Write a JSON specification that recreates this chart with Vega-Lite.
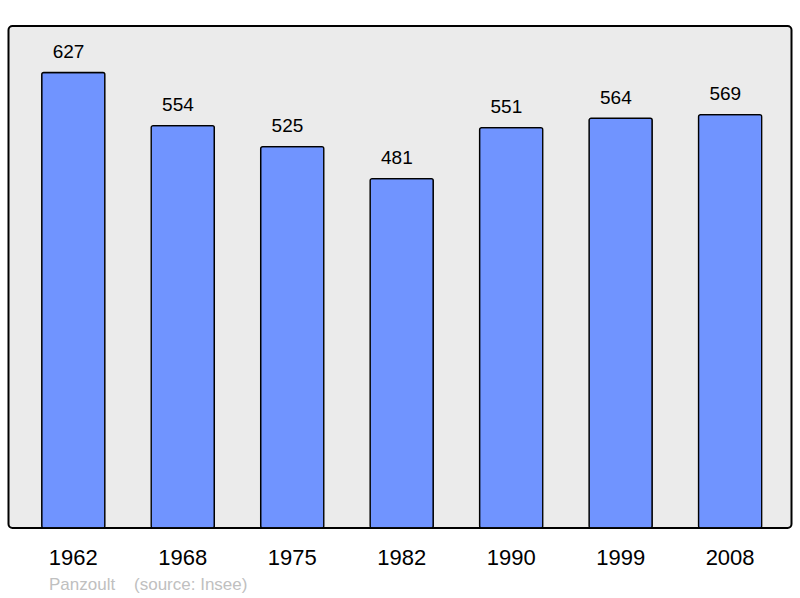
{
  "$schema": "https://vega.github.io/schema/vega-lite/v6.json",
  "width": 783,
  "height": 502,
  "autosize": {"type": "none"},
  "padding": {"left": 8.5, "top": 26, "right": 8.5, "bottom": 70},
  "background": "white",
  "config": {
    "view": {"fill": "#ebebeb", "stroke": "#000", "strokeWidth": 2, "cornerRadius": 4},
    "font": "Liberation Sans"
  },
  "title": {
    "text": "Panzoult\u00a0\u00a0\u00a0 (source: Insee)",
    "orient": "bottom",
    "anchor": "start",
    "dx": 40.5,
    "offset": 9,
    "fontSize": 17,
    "fontWeight": "normal",
    "color": "#c0c0c0",
    "font": "Liberation Sans"
  },
  "data": {
    "values": [
      {"year": "1962", "pop": 627},
      {"year": "1968", "pop": 554},
      {"year": "1975", "pop": 525},
      {"year": "1982", "pop": 481},
      {"year": "1990", "pop": 551},
      {"year": "1999", "pop": 564},
      {"year": "2008", "pop": 569}
    ]
  },
  "encoding": {
    "x": {
      "field": "year",
      "type": "nominal",
      "sort": null,
      "scale": {"paddingInner": 0.4227, "paddingOuter": 0.2877, "align": 0.527},
      "axis": {
        "title": null,
        "ticks": false,
        "domain": false,
        "grid": false,
        "labelPadding": 36,
        "labelBaseline": "alphabetic",
        "labelFontSize": 22,
        "labelColor": "#000",
        "labelAngle": 0,
        "labelFont": "Liberation Sans"
      }
    },
    "y": {
      "field": "pop",
      "type": "quantitative",
      "scale": {"domain": [0, 691]},
      "axis": null
    }
  },
  "layer": [
    {
      "mark": {"type": "bar", "fill": "#7094ff", "stroke": "#000", "strokeWidth": 1.3, "cornerRadius": 2}
    },
    {
      "mark": {"type": "text", "dy": -14.4, "dx": -4.8, "baseline": "alphabetic", "fontSize": 19, "color": "#000"},
      "encoding": {"text": {"field": "pop", "type": "quantitative"}}
    }
  ]
}
